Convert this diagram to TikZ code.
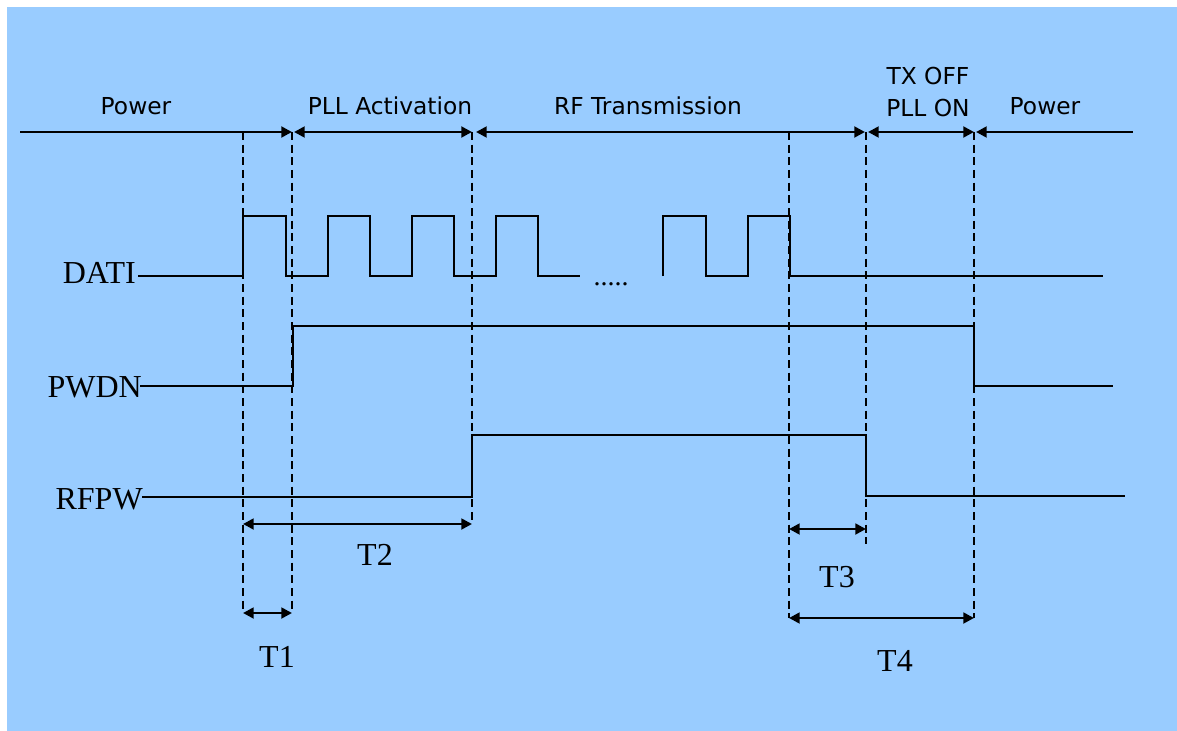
\documentclass[tikz,border=0pt]{standalone}
\usepackage{fontspec}
\setmainfont{Liberation Serif}
\newfontfamily\labfont{DejaVu Sans}
\usetikzlibrary{arrows.meta}
\definecolor{bg}{HTML}{99CCFF}
\tikzset{
  sig/.style={line width=1.4pt},
  tline/.style={line width=2.1pt},
  guide/.style={line width=1.5pt, dash pattern=on 6pt off 3.5pt},
  tarrow/.style={line width=2.1pt, {Triangle[length=8pt,width=8pt]}-{Triangle[length=8pt,width=8pt]}},
  phase/.style={font=\labfont\fontsize{17.5}{20}\selectfont, anchor=base, inner sep=0pt},
  serif/.style={font=\fontsize{24}{27}\selectfont, anchor=base, inner sep=0pt}
}
\begin{document}
\begin{tikzpicture}[x=0.75pt,y=-0.75pt]
\useasboundingbox (0,0) rectangle (1177,731);
\fill[bg] (7,7) rectangle (1177,731);

% guide coordinates
\coordinate (A) at (243,132);
\coordinate (B) at (292,132);
\coordinate (C) at (472,132);
\coordinate (D) at (789,132);
\coordinate (E) at (866,132);
\coordinate (F) at (974,132);
\coordinate (L0) at (20,132);
\coordinate (R0) at (1133,132);

% dashed guides
\draw[guide] (A) -- (243,613) coordinate (A1);
\draw[guide] (B) -- (292,613) coordinate (B1);
\draw[guide] (C) -- (472,524) coordinate (C1);
\draw[guide] (D) -- (789,618) coordinate (D1);
\draw[guide] (E) -- (866,544) coordinate (E1);
\draw[guide] (F) -- (974,618) coordinate (F1);

% phase timeline
\draw[tline,-{Triangle[length=8pt,width=8pt]}] (L0) -- (B);
\draw[tline,{Triangle[length=8pt,width=8pt]}-{Triangle[length=8pt,width=8pt]}] (294,132) -- (C);
\draw[tline,{Triangle[length=8pt,width=8pt]}-{Triangle[length=8pt,width=8pt]}] (476,132) -- (865,132);
\draw[tline,{Triangle[length=8pt,width=8pt]}-{Triangle[length=8pt,width=8pt]}] (868,132) -- (F);
\draw[tline,{Triangle[length=8pt,width=8pt]}-] (976,132) -- (R0);

% phase labels
\node[phase] (p1) at (136,115) {Power};
\node[phase] (p2) at (390,115) {PLL Activation};
\node[phase] (p3) at (648,115) {RF Transmission};
\node[phase] (p4a) at (928,85) {TX OFF};
\node[phase] (p4b) at (928,117) {PLL ON};
\node[phase] (p5) at (1045,115) {Power};

% signal labels
\node[serif, anchor=base east] (dati) at (136,283) {DATI};
\node[serif, anchor=base east] (pwdn) at (142,397) {PWDN};
\node[serif, anchor=base east] (rfpw) at (143,509) {RFPW};

% DATI
\draw[sig] (138,276) -- (243,276) -- (243,216) -- (286,216) -- (286,276)
  -- (328,276) -- (328,216) -- (370,216) -- (370,276)
  -- (412,276) -- (412,216) -- (454,216) -- (454,276)
  -- (496,276) -- (496,216) -- (538,216) -- (538,276) -- (580,276);
\node[font=\fontsize{21}{24}\selectfont, inner sep=0pt, anchor=base] (dots) at (611,285) {.....};
\draw[sig] (663,276) -- (663,216) -- (706,216) -- (706,276)
  -- (748,276) -- (748,216) -- (790,216) -- (790,276) -- (1103,276) coordinate (dend);

% PWDN
\draw[sig] (140,386) -- (293,386) -- (293,326) -- (974,326) -- (974,386) -- (1113,386) coordinate (pend);

% RFPW
\draw[sig] (142,497) -- (472,497) -- (472,435) -- (866,435) -- (866,496) -- (1125,496) coordinate (rend);

% timing arrows
\draw[tarrow] (A |- 0,524) -- (C1);
\node[serif] (t2) at (375,565) {T2};
\draw[tarrow] (A1) -- (B1);
\node[serif] (t1) at (277,667) {T1};
\draw[tarrow] (D |- 0,529) -- (866,529);
\node[serif] (t3) at (837,587) {T3};
\draw[tarrow] (D1) -- (F1);
\node[serif] (t4) at (895,671) {T4};
\end{tikzpicture}
\end{document}
